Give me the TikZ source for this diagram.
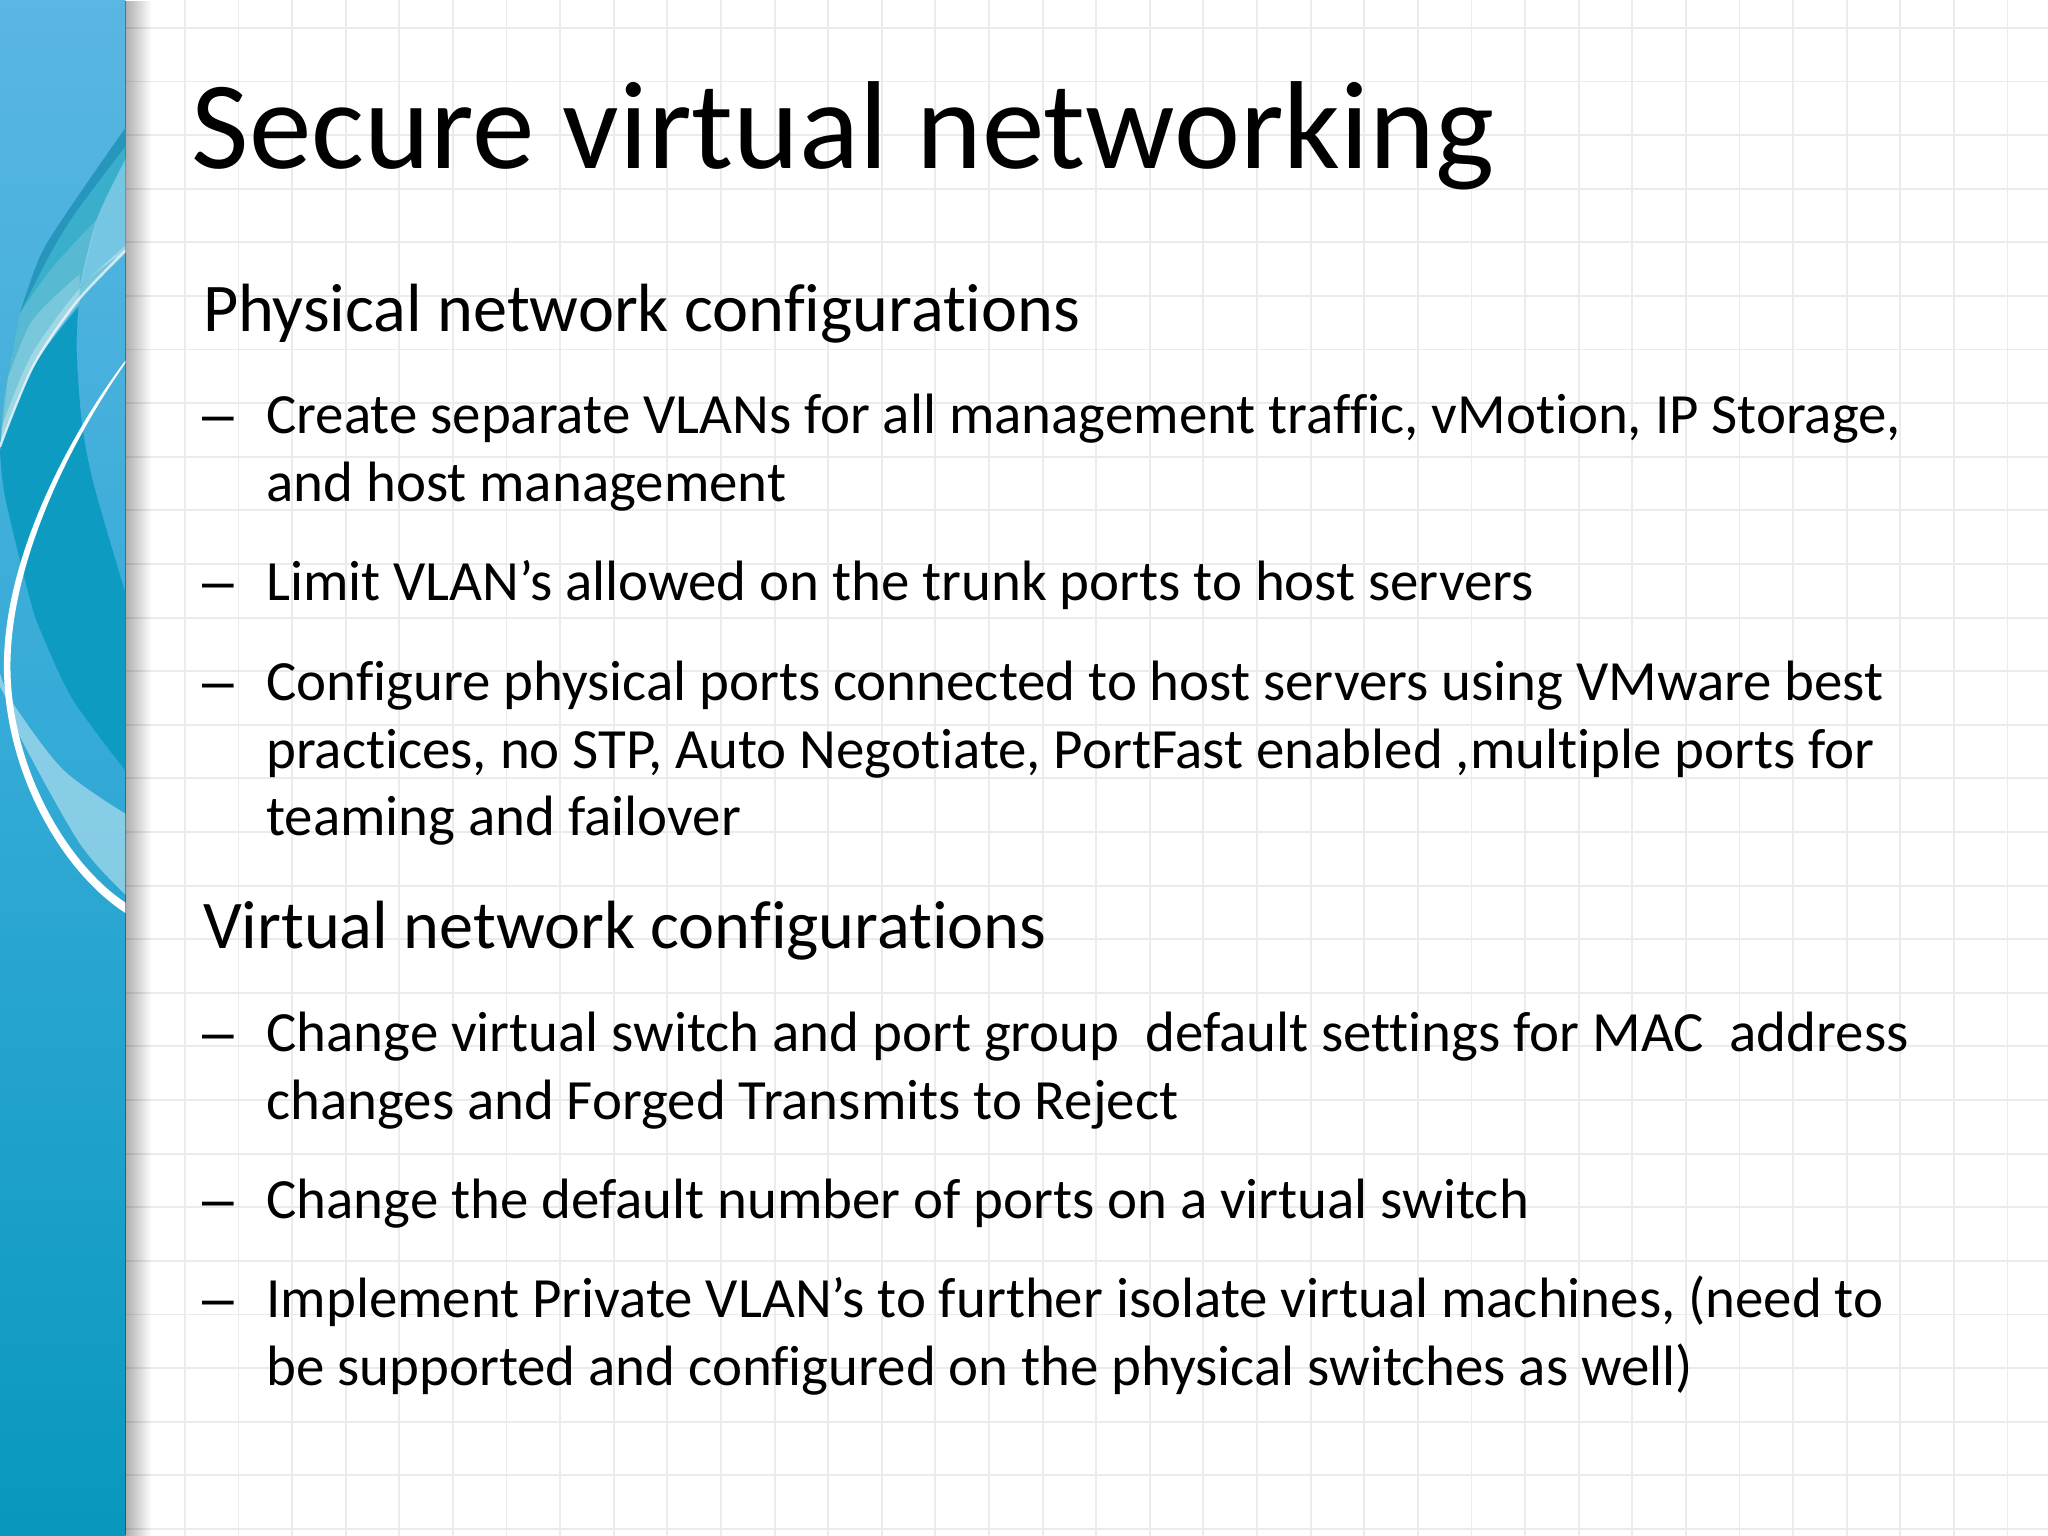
\documentclass[tikz,border=0pt]{standalone}
\usepackage{fontspec}
\setmainfont[Ligatures=NoCommon]{Carlito}
\newfontfamily\dashfont{Liberation Sans}
\usetikzlibrary{fadings}
\definecolor{gridc}{HTML}{EBEBEB}
\definecolor{bandtop}{HTML}{5AB6E2}
\definecolor{bandmid}{HTML}{33AAD6}
\definecolor{bandbot}{HTML}{0898BC}
\definecolor{deep}{HTML}{0E9BC2}
\definecolor{crest}{HTML}{2796BC}
\definecolor{teal}{HTML}{3AAFCB}
\definecolor{pale}{HTML}{74C6E3}
\tikzfading[name=shadowfade,left color=transparent!68,right color=transparent!100]
\tikzset{
  title/.style={anchor=base west,inner sep=0pt,font=\fontsize{44}{44}\selectfont},
  head/.style={anchor=base west,inner sep=0pt,font=\fontsize{24}{24}\selectfont},
  body/.style={anchor=base west,inner sep=0pt,font=\fontsize{20}{20}\selectfont},
  dashm/.style={anchor=base west,inner sep=0pt,font=\fontsize{20}{20}\selectfont\dashfont},
  gridline/.style={gridc,line width=0.65pt},
}
\begin{document}
\begin{tikzpicture}[x=0.459184pt,y=-0.459184pt]
\useasboundingbox (0,0) rectangle (1568,1176);
\fill[white] (0,0) rectangle (1568,1176);
% grid
\foreach \k in {0,...,35} {\draw[gridline] ({141.6+41.04*\k},0) -- ({141.6+41.04*\k},1176);}
\foreach \k in {0,...,28} {\draw[gridline] (96,{21.4+41.04*\k}) -- (1568,{21.4+41.04*\k});}
% band
\shade[top color=bandtop,bottom color=bandbot,middle color=bandmid] (0,0) rectangle (96,1176);
\fill[black,path fading=shadowfade] (96,0) rectangle (116,1176);
\begin{scope}
\clip (0,0) rectangle (96,1176);
% dark central crescent
\fill[deep] (0,345) -- plot[smooth] coordinates {(0,345) (25.5,281) (60,235)}
  -- plot[smooth] coordinates {(60,235) (58.7,268) (62.5,322) (71.5,370) (96,454)}
  -- (96,590) -- plot[smooth] coordinates {(96,590) (56,536) (33,487.5) (23,459) (4,381) (0,345)} -- cycle;
% teal swoosh
\fill[teal] plot[smooth] coordinates {(96,98) (51,163) (30.6,196.5) (15.3,240) (2.6,306) (0,342)}
  -- plot[smooth] coordinates {(0,342) (25.5,281) (58.7,232) (96,193)} -- cycle;
% its dark outer edge
\fill[crest] plot[smooth] coordinates {(96,98) (51,163) (30.6,196.5) (15.3,240)}
  -- plot[smooth] coordinates {(15.3,240) (37,197) (57,164) (96,112)} -- cycle;
% pale right part
\fill[pale] plot[smooth] coordinates {(96,122) (74,168) (61,220)}
  -- plot[smooth] coordinates {(61,220) (78,205) (96,193)} -- cycle;
% whitening towards the band
\fill[white,opacity=.15] plot[smooth] coordinates {(15,240) (40,205) (74,168)}
  -- (61,222) -- plot[smooth] coordinates {(58.7,232) (25.5,281) (0,342)} -- (2.6,306) -- cycle;
\fill[white,opacity=.2] plot[smooth] coordinates {(6,290) (25,245) (61,210)}
  -- plot[smooth] coordinates {(61,232) (25.5,281) (0,342)} -- cycle;
\fill[white,opacity=.3] plot[smooth] coordinates {(2,325) (24,272) (60,222) (96,188)}
  -- plot[smooth] coordinates {(96,194) (58.7,233) (25.5,282) (0,343)} -- cycle;
\draw[white,opacity=.65,line width=.8pt] plot[smooth] coordinates {(0,342) (25.5,280) (58.7,231) (96,192)};
% lower light band
\fill[white,opacity=.42] plot[smooth] coordinates {(0,515.5) (10,538.5) (48.5,589.5) (96,623)}
  -- plot[smooth] coordinates {(96,685) (61,645.7) (15.3,564) (7.6,541) (0,525.7)} -- cycle;
% white thin curve, tapering towards the top
\fill[white] (96,276) .. controls (49,339) and (3,430) .. (3,510)
  .. controls (3,592) and (48,668) .. (96,699)
  -- (96,691) .. controls (52,662) and (8,588) .. (8,510)
  .. controls (8,432) and (52,341) .. (96,278) -- cycle;
\end{scope}
% title
\node[title] (t0) at (146.5,129) {Secure virtual networking};
\node[head] (h1) at (155,254) {Physical network configurations};
\node[dashm] (d1) at (154.4,332) {–};
\node[body] (a1) at (203.5,332) {Create separate VLANs for all management traffic, vMotion, IP Storage,};
\node[body] (a2) at (203.5,384) {and host management};
\node[dashm] (d2) at (154.4,460) {–};
\node[body] (b1) at (203.5,460) {Limit VLAN’s allowed on the trunk ports to host servers};
\node[dashm] (d3) at (154.4,536) {–};
\node[body] (c1) at (203.5,536) {Configure physical ports connected to host servers using VMware best};
\node[body] (c2) at (203.5,588) {practices, no STP, Auto Negotiate, PortFast enabled ,multiple ports for};
\node[body] (c3) at (203.5,640) {teaming and failover};
\node[head] (h2) at (155,726) {Virtual network configurations};
\node[dashm] (d4) at (154.4,805) {–};
\node[body] (e1) at (203.5,805) {Change virtual switch and port group\ \ default settings for MAC\ \ address};
\node[body] (e2) at (203.5,857) {changes and Forged Transmits to Reject};
\node[dashm] (d5) at (154.4,933) {–};
\node[body] (f1) at (203.5,933) {Change the default number of ports on a virtual switch};
\node[dashm] (d6) at (154.4,1009) {–};
\node[body] (g1) at (203.5,1009) {Implement Private VLAN’s to further isolate virtual machines, (need to};
\node[body] (g2) at (203.5,1061) {be supported and configured on the physical switches as well)};
\end{tikzpicture}
\end{document}
